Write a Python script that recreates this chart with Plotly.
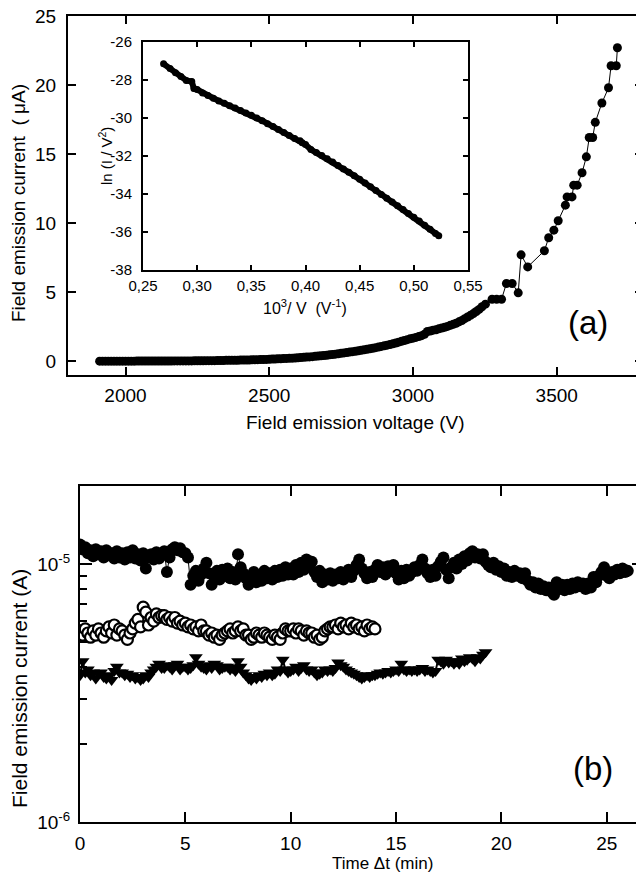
import plotly.graph_objects as go

# ---------------- Panel (a): field emission current (uA) vs voltage (V) ----------------
volt_a = [1910, 1920, 1930, 1940, 1950, 1960, 1970, 1980, 1990, 2000,
          2010, 2020, 2030, 2040, 2050, 2060, 2070, 2080, 2090, 2100,
          2110, 2120, 2130, 2140, 2150, 2160, 2170, 2180, 2190, 2200,
          2210, 2220, 2230, 2240, 2250, 2260, 2270, 2280, 2290, 2300,
          2310, 2320, 2330, 2340, 2350, 2360, 2370, 2380, 2390, 2400,
          2410, 2420, 2430, 2440, 2450, 2460, 2470, 2480, 2490, 2500,
          2510, 2520, 2530, 2540, 2550, 2560, 2570, 2580, 2590, 2600,
          2610, 2620, 2630, 2640, 2650, 2660, 2670, 2680, 2690, 2700,
          2710, 2720, 2730, 2740, 2750, 2760, 2770, 2780, 2790, 2800,
          2810, 2820, 2830, 2840, 2850, 2860, 2870, 2880, 2890, 2900,
          2910, 2920, 2930, 2940, 2950, 2960, 2970, 2980, 2990, 3000,
          3010, 3020, 3030, 3040, 3050, 3060, 3070, 3080, 3090, 3100,
          3110, 3120, 3130, 3140, 3150, 3160, 3170, 3180, 3190, 3200,
          3210, 3220, 3230,
          3240, 3252, 3275, 3291, 3308, 3325, 3345, 3366, 3376, 3399,
          3457, 3472, 3490, 3505, 3530, 3536, 3553, 3559, 3571, 3588,
          3603, 3613, 3625, 3634, 3657, 3680, 3689, 3707, 3711]
curr_a = [0.00, 0.00, 0.00, 0.00, 0.00, 0.00, 0.00, 0.00, 0.00, 0.00,
          0.00, 0.00, 0.00, 0.01, 0.01, 0.01, 0.01, 0.01, 0.01, 0.01,
          0.01, 0.01, 0.01, 0.01, 0.01, 0.01, 0.02, 0.02, 0.02, 0.02,
          0.02, 0.02, 0.02, 0.03, 0.03, 0.03, 0.03, 0.04, 0.04, 0.04,
          0.04, 0.05, 0.05, 0.05, 0.06, 0.06, 0.06, 0.07, 0.07, 0.08,
          0.08, 0.09, 0.09, 0.10, 0.10, 0.11, 0.12, 0.12, 0.13, 0.14,
          0.15, 0.16, 0.17, 0.18, 0.19, 0.20, 0.21, 0.22, 0.23, 0.25,
          0.27, 0.28, 0.30, 0.31, 0.33, 0.35, 0.37, 0.39, 0.41, 0.43,
          0.46, 0.48, 0.51, 0.54, 0.57, 0.60, 0.63, 0.66, 0.69, 0.72,
          0.75, 0.79, 0.82, 0.86, 0.90, 0.94, 0.98, 1.02, 1.07, 1.11,
          1.16, 1.21, 1.26, 1.32, 1.38, 1.44, 1.50, 1.56, 1.62, 1.67,
          1.72, 1.78, 1.85, 1.95, 2.15, 2.18, 2.25, 2.28, 2.35, 2.40,
          2.45, 2.52, 2.60, 2.67, 2.75, 2.85, 2.95, 3.08, 3.20, 3.32,
          3.45, 3.60, 3.75,
          3.94, 4.13, 4.49, 4.49, 4.49, 5.63, 5.63, 4.95, 7.70, 6.83,
          8.00, 8.94, 9.49, 10.17, 11.30, 11.90, 11.90, 12.75, 12.75, 13.65,
          14.80, 16.20, 16.20, 17.30, 18.70, 19.80, 21.40, 21.40, 22.70]
x_ticks_a = [2000, 2500, 3000, 3500]
y_ticks_a = [0, 5, 10, 15, 20, 25]

# ---------------- Inset: ln(I/V^2) vs 10^3/V ----------------
inv_volt = [0.269, 0.275, 0.280, 0.285, 0.290, 0.295, 0.297, 0.300, 0.305, 0.310,
            0.315, 0.320, 0.325, 0.330, 0.335, 0.340, 0.345, 0.350, 0.355, 0.360,
            0.365, 0.370, 0.375, 0.380, 0.385, 0.390, 0.395, 0.397, 0.400, 0.405,
            0.410, 0.415, 0.420, 0.425, 0.430, 0.435, 0.440, 0.445, 0.450, 0.455,
            0.460, 0.465, 0.470, 0.475, 0.480, 0.485, 0.490, 0.495, 0.500, 0.505,
            0.510, 0.515, 0.520, 0.523]
ln_iv2 = [-27.15, -27.40, -27.62, -27.82, -28.02, -28.08, -28.45, -28.50, -28.68, -28.82,
          -28.96, -29.10, -29.22, -29.36, -29.48, -29.60, -29.74, -29.86, -30.00, -30.14,
          -30.30, -30.45, -30.60, -30.76, -30.92, -31.08, -31.20, -31.30, -31.40, -31.66,
          -31.82, -31.98, -32.14, -32.32, -32.50, -32.68, -32.86, -33.04, -33.22, -33.42,
          -33.62, -33.82, -34.02, -34.22, -34.42, -34.62, -34.82, -35.02, -35.22, -35.42,
          -35.64, -35.86, -36.08, -36.20]
inset_x_ticks = [0.25, 0.30, 0.35, 0.40, 0.45, 0.50, 0.55]
inset_x_labels = ["0,25", "0,30", "0,35", "0,40", "0,45", "0,50", "0,55"]
inset_y_ticks = [-38, -36, -34, -32, -30, -28, -26]
inset_y_labels = ["-38", "-36", "-34", "-32", "-30", "-28", "-26"]

# ---------------- Panel (b): current stability vs time ----------------
time_min = [0.000, 0.125, 0.250, 0.375, 0.500, 0.625, 0.750, 0.875,
            1.000, 1.125, 1.250, 1.375, 1.500, 1.625, 1.750, 1.875,
            2.000, 2.125, 2.250, 2.375, 2.500, 2.625, 2.750, 2.875,
            3.000, 3.125, 3.250, 3.375, 3.500, 3.625, 3.750, 3.875,
            4.000, 4.125, 4.250, 4.375, 4.500, 4.625, 4.750, 4.875,
            5.000, 5.125, 5.250, 5.375, 5.500, 5.625, 5.750, 5.875,
            6.000, 6.125, 6.250, 6.375, 6.500, 6.625, 6.750, 6.875,
            7.000, 7.125, 7.250, 7.375, 7.500, 7.625, 7.750, 7.875,
            8.000, 8.125, 8.250, 8.375, 8.500, 8.625, 8.750, 8.875,
            9.000, 9.125, 9.250, 9.375, 9.500, 9.625, 9.750, 9.875,
            10.000, 10.125, 10.250, 10.375, 10.500, 10.625, 10.750, 10.875,
            11.000, 11.125, 11.250, 11.375, 11.500, 11.625, 11.750, 11.875,
            12.000, 12.125, 12.250, 12.375, 12.500, 12.625, 12.750, 12.875,
            13.000, 13.125, 13.250, 13.375, 13.500, 13.625, 13.750, 13.875,
            14.000, 14.125, 14.250, 14.375, 14.500, 14.625, 14.750, 14.875,
            15.000, 15.125, 15.250, 15.375, 15.500, 15.625, 15.750, 15.875,
            16.000, 16.125, 16.250, 16.375, 16.500, 16.625, 16.750, 16.875,
            17.000, 17.125, 17.250, 17.375, 17.500, 17.625, 17.750, 17.875,
            18.000, 18.125, 18.250, 18.375, 18.500, 18.625, 18.750, 18.875,
            19.000, 19.125, 19.250, 19.375, 19.500, 19.625, 19.750, 19.875,
            20.000, 20.125, 20.250, 20.375, 20.500, 20.625, 20.750, 20.875,
            21.000, 21.125, 21.250, 21.375, 21.500, 21.625, 21.750, 21.875,
            22.000, 22.125, 22.250, 22.375, 22.500, 22.625, 22.750, 22.875,
            23.000, 23.125, 23.250, 23.375, 23.500, 23.625, 23.750, 23.875,
            24.000, 24.125, 24.250, 24.375, 24.500, 24.625, 24.750, 24.875,
            25.000, 25.125, 25.250, 25.375, 25.500, 25.625, 25.750, 25.875,
            26.000]
# currents in units of 1e-6 A
curr_filled = [11.9, 11.4, 11.6, 11.0, 11.3, 10.7, 11.4, 10.9,
               11.2, 10.6, 11.3, 10.8, 11.0, 10.5, 11.2, 10.6,
               11.0, 10.4, 11.1, 10.6, 11.3, 10.5, 10.9, 10.3,
               11.0, 9.6, 10.6, 10.9, 10.4, 11.1, 10.5, 10.8,
               11.2, 9.3, 10.6, 11.4, 11.6, 11.3, 11.5, 11.1,
               11.0, 10.6, 8.3, 9.0, 9.4, 8.6, 9.1, 9.6,
               10.1, 9.2, 8.3, 8.9, 9.4, 8.7, 9.5, 9.0,
               9.6, 8.8, 9.3, 8.7, 10.9, 9.7, 9.2, 8.8,
               8.3, 8.9, 9.3, 8.5, 9.0, 8.6, 9.4, 8.8,
               9.2, 8.7, 9.4, 8.9, 9.5, 9.0, 9.7, 9.1,
               9.6, 9.1, 9.9, 9.3, 10.1, 9.5, 10.4, 9.8,
               10.2, 9.3, 8.9, 9.4, 8.5, 9.1, 8.7, 9.2,
               8.6, 9.1, 8.8, 9.3, 8.7, 9.2, 9.5, 8.9,
               9.4, 9.9, 10.4, 9.6, 9.2, 8.8, 9.3, 8.9,
               9.5, 9.9, 9.3, 9.7, 9.1, 9.8, 9.4, 9.9,
               9.2, 8.7, 9.4, 8.8, 9.5, 9.0, 9.3, 9.7,
               9.4, 9.9, 10.4, 9.6, 9.2, 8.9, 9.5, 9.0,
               9.8, 10.2, 10.6, 9.5, 8.8, 9.7, 10.1, 9.6,
               10.4, 10.0, 10.7, 10.3, 11.0, 11.2, 10.6, 10.9,
               10.5, 10.9, 10.2, 9.9, 9.7, 10.1, 9.5, 9.8,
               9.3, 9.6, 9.0, 9.3, 8.9, 9.4, 9.0, 9.2,
               8.8, 9.2, 8.6, 8.3, 8.5, 8.1, 8.4, 8.0,
               8.2, 7.9, 8.1, 7.8, 7.6, 8.5, 8.0, 8.3,
               7.9, 8.3, 8.0, 8.4, 8.1, 8.5, 8.2, 8.4,
               8.0, 8.4, 8.1, 8.9, 8.5, 9.0, 9.3, 9.7,
               9.0, 8.8, 9.3, 9.1, 9.5, 9.2, 9.6, 9.3,
               9.4]
curr_open = [5.5, 5.3, 5.6, 5.4, 5.2, 5.5, 5.3, 5.6,
             5.4, 5.2, 5.5, 5.7, 5.4, 5.8, 5.3, 5.6,
             5.5, 5.3, 5.1, 5.4, 5.6, 5.9, 6.1, 5.7,
             6.8, 6.5, 5.8, 6.2, 6.0, 6.4, 6.2, 6.3,
             6.3, 6.1, 6.2, 6.0, 6.2, 5.9, 6.0, 5.8,
             5.9, 5.7, 5.8, 5.6, 5.7, 5.5, 5.8, 5.5,
             5.5, 5.3, 5.4, 5.2, 5.3, 5.1, 5.3, 5.4,
             5.5, 5.6, 5.4, 5.5, 5.7, 5.5, 5.6, 5.3,
             5.3, 5.1, 5.2, 5.4, 5.3, 5.2, 5.4, 5.3,
             5.2, 5.1, 5.3, 5.2, 5.1, 5.4, 5.6, 5.5,
             5.5, 5.6, 5.4, 5.6, 5.5, 5.3, 5.5, 5.4,
             5.4, 5.2, 5.3, 5.1, 5.2, 5.5, 5.6, 5.7,
             5.7, 5.8, 5.6, 5.9, 5.7, 5.8, 5.6, 5.9,
             5.7, 5.8, 5.6, 5.7, 5.5, 5.8, 5.6, 5.7,
             5.6]
curr_tri = [3.7, 4.2, 3.8, 3.9, 3.7, 3.8, 3.6, 3.75,
            3.8, 3.65, 3.6, 3.7, 3.55, 3.85, 4.0, 3.8,
            3.8, 3.7, 3.75, 3.65, 3.7, 3.6, 3.65, 3.55,
            3.6, 3.7, 3.65, 3.8, 3.9, 4.0, 4.1, 3.95,
            3.95, 4.05, 4.0, 3.9, 4.05, 4.1, 3.9, 4.0,
            4.0, 3.9, 3.95, 4.05, 4.35, 4.1, 4.0, 3.95,
            3.9, 4.05, 3.95, 4.1, 4.05, 3.9, 3.95, 4.0,
            4.0, 3.9, 3.95, 3.85, 4.2, 4.0, 3.8, 3.7,
            3.6, 3.55, 3.65, 3.6, 3.7, 3.65, 3.75, 3.7,
            3.8, 3.7, 3.75, 3.9, 3.85, 4.25, 3.9, 3.8,
            3.85, 3.9, 4.0, 3.85, 3.95, 4.05, 3.9, 3.85,
            3.9, 3.8, 3.7, 3.75, 3.8, 3.9, 3.85, 3.9,
            3.85, 3.95, 4.15, 4.05, 4.0, 3.9, 3.85, 3.8,
            3.75, 3.7, 3.65, 3.6, 3.65, 3.7, 3.65, 3.7,
            3.7, 3.75, 3.8, 3.75, 3.8, 3.85, 3.8, 3.85,
            3.9, 3.85, 4.1, 3.9, 3.85, 3.9, 3.85, 3.9,
            3.85, 3.9, 3.95, 3.85, 3.9, 3.85, 3.8, 3.85,
            4.25, 4.2, 4.1, 4.25, 4.15, 4.2, 4.1, 4.2,
            4.1, 4.3, 4.2, 4.25, 4.35, 4.3, 4.2, 4.35,
            4.3, 4.45, 4.55]
x_ticks_b = [0, 5, 10, 15, 20, 25]
y_ticks_b = [1e-6, 1e-5]
y_labels_b = ["10<sup>-6</sup>", "10<sup>-5</sup>"]
y_minor_b = [2e-6, 3e-6, 4e-6, 5e-6, 6e-6, 7e-6, 8e-6, 9e-6]

# The page body has an 8 px margin; the figure is sized to the visible area
# and positions below are given in window pixels (offset by that margin).
OFF = 8
W, H = 644 - OFF, 875 - OFF
FONT = "Liberation Sans, Arial, sans-serif"


def px(x):
    return min(1.0, (x - OFF) / W)


def py(y):
    return 1 - (y - OFF) / H


fig = go.Figure()

fig.add_trace(go.Scatter(x=volt_a, y=curr_a, mode="lines+markers",
                         line=dict(color="black", width=1),
                         marker=dict(symbol="circle", size=9, color="black"),
                         xaxis="x", yaxis="y", showlegend=False))
fig.add_trace(go.Scatter(x=inv_volt, y=ln_iv2, mode="lines+markers",
                         line=dict(color="black", width=6),
                         marker=dict(symbol="circle", size=7, color="black"),
                         xaxis="x2", yaxis="y2", showlegend=False))

uA = 1e-6
fig.add_trace(go.Scatter(x=time_min[:len(curr_filled)], y=[v * uA for v in curr_filled],
                         mode="lines+markers",
                         line=dict(color="black", width=1),
                         marker=dict(symbol="circle", size=12, color="black"),
                         xaxis="x3", yaxis="y3", showlegend=False))
fig.add_trace(go.Scatter(x=time_min[:len(curr_open)], y=[v * uA for v in curr_open],
                         mode="lines+markers",
                         line=dict(color="black", width=1.5),
                         marker=dict(symbol="circle", size=11, color="white",
                                     line=dict(color="black", width=2.2)),
                         xaxis="x3", yaxis="y3", showlegend=False))
fig.add_trace(go.Scatter(x=time_min[:len(curr_tri)], y=[v * uA for v in curr_tri],
                         mode="lines+markers",
                         line=dict(color="black", width=2),
                         marker=dict(symbol="triangle-down", size=12, color="black"),
                         xaxis="x3", yaxis="y4", showlegend=False))

axis_common = dict(showline=True, linecolor="black", linewidth=2, ticks="inside",
                   tickcolor="black", tickwidth=2, showgrid=False, zeroline=False,
                   automargin=False, ticklabeloverflow="allow",
                   tickfont=dict(family=FONT, size=19, color="black"))

log_lo, log_hi = -6, -4.698

fig.update_layout(
    width=W, height=H,
    margin=dict(l=0, r=0, t=0, b=0, pad=0, autoexpand=False),
    paper_bgcolor="white", plot_bgcolor="white",
    font=dict(family=FONT, color="black"),
    xaxis=dict(axis_common, domain=[px(68), px(643)], anchor="y", range=[1800, 3800],
               tickvals=x_ticks_a, ticklen=8, mirror="ticks", ticklabelstandoff=2),
    yaxis=dict(axis_common, domain=[py(375), py(16)], anchor="x", range=[-1, 25],
               tickvals=y_ticks_a, ticklen=8, mirror="ticks", ticklabelstandoff=6),
    xaxis2=dict(axis_common, domain=[px(143), px(468)], anchor="y2", range=[0.25, 0.55],
                tickvals=inset_x_ticks, ticktext=inset_x_labels, ticklen=5, mirror="ticks",
                tickfont=dict(family=FONT, size=15, color="black"), ticklabelstandoff=1),
    yaxis2=dict(axis_common, domain=[py(270), py(42)], anchor="x2", range=[-38, -26],
                tickvals=inset_y_ticks, ticktext=inset_y_labels, ticklen=5, mirror="ticks",
                tickfont=dict(family=FONT, size=15, color="black"), ticklabelstandoff=6),
    xaxis3=dict(axis_common, domain=[px(80), 1.0], anchor="y3", range=[0, 26.77],
                tickvals=x_ticks_b, ticklen=10, mirror="ticks", ticklabelstandoff=3),
    yaxis3=dict(axis_common, domain=[py(822), py(486)], anchor="x3", type="log",
                range=[log_lo, log_hi], tickvals=y_ticks_b, ticktext=y_labels_b,
                ticklen=12, mirror=False, ticklabelstandoff=4,
                minor=dict(tickmode="array", tickvals=y_minor_b, ticks="inside",
                           ticklen=7, tickwidth=1.5, tickcolor="black", showgrid=False)),
    yaxis4=dict(overlaying="y3", anchor="x3", side="right", type="log",
                range=[log_lo, log_hi], showline=False, showgrid=False, zeroline=False,
                automargin=False,
                ticks="inside", tickvals=y_ticks_b, ticklen=12, tickwidth=2,
                tickcolor="black", showticklabels=False,
                minor=dict(tickmode="array", tickvals=y_minor_b, ticks="inside",
                           ticklen=7, tickwidth=1.5, tickcolor="black", showgrid=False)),
)


def label(text, x, y, size, angle=0):
    fig.add_annotation(text=text, x=px(x), y=py(y), xref="paper", yref="paper",
                       xanchor="center", yanchor="middle", showarrow=False,
                       textangle=angle, font=dict(family=FONT, size=size, color="black"))


label("Field emission voltage (V)", 355, 423, 19)
label("Field emission current \u00a0( \u03bcA)", 18, 203, 19, -90)
label("10<sup>3</sup>/ V \u00a0(V<sup>-1</sup>)", 305, 307, 16)
label("ln (I / V<sup>2</sup>)", 105, 156, 15, -90)
label("(a)", 588, 322, 33)
label("Time \u0394t (min)", 382, 863, 17)
label("Field emission current (A)", 19, 689, 21, -90)
label("(b)", 593, 768, 33)

fig.write_html("out.html")
